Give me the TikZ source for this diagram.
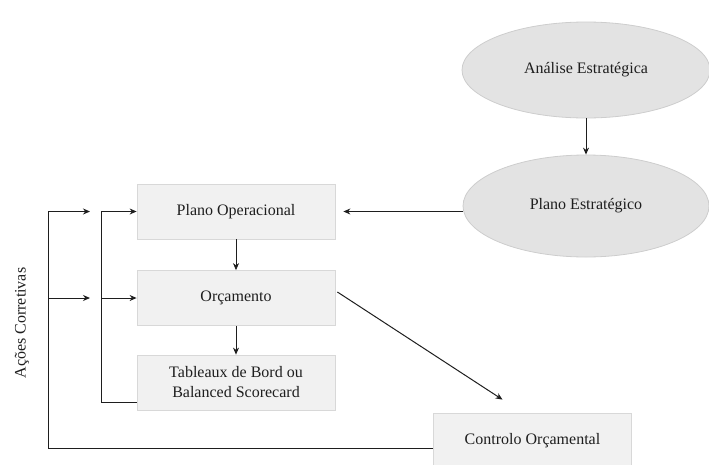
\documentclass[tikz,border=0pt]{standalone}
\usepackage{fontspec}
\setmainfont{Liberation Serif}
\usetikzlibrary{shapes.geometric,arrows.meta,calc}
\definecolor{boxfill}{RGB}{241,241,241}
\definecolor{boxline}{RGB}{216,216,216}
\definecolor{ellfill}{RGB}{227,227,227}
\definecolor{ellline}{RGB}{205,205,205}
\definecolor{ink}{RGB}{30,30,30}
\tikzset{
  opbox/.style={rectangle, draw=boxline, fill=boxfill, line width=0.8pt,
    minimum width=198pt, minimum height=55pt, align=center, inner sep=2pt,
    font=\fontsize{16}{20}\selectfont, text=ink},
  ell/.style={ellipse, draw=ellline, fill=ellfill, line width=0.8pt,
    minimum width=248pt, minimum height=96pt, inner sep=0pt,
    font=\fontsize{16}{20}\selectfont, text=ink},
  conn/.style={draw=ink, line width=1pt},
  arr/.style={conn, -{Stealth[length=7pt,width=6pt]}},
}
\begin{document}
\begin{tikzpicture}[x=1pt,y=-1pt]
\useasboundingbox (0,0) rectangle (709,464);
\node[ell] (AE) at (586,70) {Análise Estratégica};
\node[ell, minimum height=102pt, minimum width=246pt] (PE) at (586,206) {Plano Estratégico};
\node[opbox] (PO) at (236,211.5) {Plano Operacional};
\node[opbox] (OR) at (236,298) {Orçamento};
\node[opbox] (TB) at (236,382.5) {Tableaux de Bord ou\\Balanced Scorecard};
\node[opbox] (CO) at (532.5,440.5) {Controlo Orçamental};
\node[rotate=90, font=\fontsize{16}{20}\selectfont, text=ink] (AC) at (22,323) {Ações Corretivas};

\coordinate (o1) at (48,448);
\coordinate (o2) at (48,211.5);
\coordinate (o3) at (48,298);
\coordinate (i1) at (101,402);
\coordinate (i2) at (101,211.5);
\coordinate (i3) at (101,298);

\draw[arr] (AE.south) -- (PE.north);
\draw[arr, shorten >=8pt] (PE.west |- PO.east) -- (PO.east);
\draw[arr, line width=0.7pt] (PO.south) -- (OR.north);
\draw[arr, line width=0.7pt] (OR.south) -- (TB.north);
\draw[arr] ($(OR.east)+(2,-6)$) -- ($(CO.north)+(-30,-13)$);

\draw[conn] ($(CO.west)+(0,7.5)$) -- (o1) -- (o2);
\draw[arr] (o2) -- ++(42,0);
\draw[arr] (o3) -- ++(42,0);

\draw[conn] ($(TB.west)+(0,19.5)$) -- (i1) -- (i2);
\draw[arr] (i2) -- (PO.west);
\draw[arr] (i3) -- (OR.west);
\end{tikzpicture}
\end{document}
